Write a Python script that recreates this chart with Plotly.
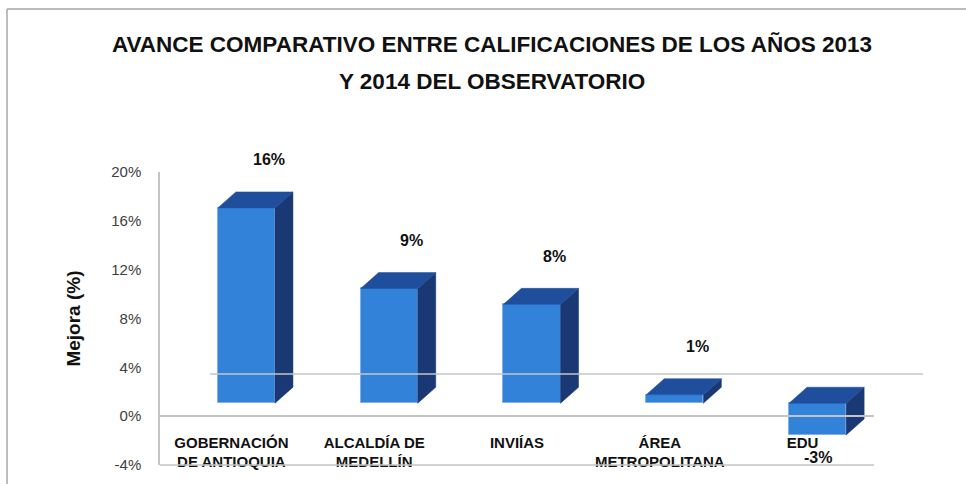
import plotly.graph_objects as go

# ---------------- data ----------------
categories = ["GOBERNACIÓN<br>DE ANTIOQUIA", "ALCALDÍA DE<br>MEDELLÍN", "INVIÍAS",
              "ÁREA<br>METROPOLITANA", "EDU"]
mejora = [0.16, 0.094, 0.081, 0.007, -0.026]
y_tick_vals = [-0.04, 0.0, 0.04, 0.08, 0.12, 0.16, 0.20]
y_tick_text = ["-4%", "0%", "4%", "8%", "12%", "16%", "20%"]
title_line1 = "AVANCE COMPARATIVO ENTRE CALIFICACIONES DE LOS AÑOS 2013"
title_line2 = "Y 2014 DEL OBSERVATORIO"
y_title = "Mejora (%)"

# ---------------- styling constants ----------------
W, H = 966, 484
ML, MR, MT, MB = 160, 92, 172, 19
Y_MIN, Y_MAX = -0.04, 0.20
BAR_SHIFT = 0.105      # bars drawn in front of the category position (3D effect)
BAR_W = 0.40
DEPTH_X = 0.126        # 3D depth in x units
DEPTH_Y = 0.0131       # 3D depth in y units
FLOOR = 0.0106         # front-face floor offset (3D effect)

FRONT = "#3282DA"
TOP = "#1F4E9C"
SIDE = "#193874"
GRID = "#C4C4C4"
BORDER = "#A6A6A6"

FONT = "Liberation Sans, Arial, sans-serif"
TITLE_SIZE = 22.5

idx = list(range(len(categories)))
cx = [i + BAR_SHIFT for i in idx]
hw = BAR_W / 2

fig = go.Figure()

# side faces and top faces (computed from values)
side_x, side_y, top_x, top_y = [], [], [], []
for c, v in zip(cx, mejora):
    top = FLOOR + max(v, 0)
    bot = FLOOR + min(v, 0)
    side_x += [c + hw, c + hw, c + hw + DEPTH_X, c + hw + DEPTH_X, c + hw, None]
    side_y += [bot, top, top + DEPTH_Y, bot + DEPTH_Y, bot, None]
    top_x += [c - hw, c + hw, c + hw + DEPTH_X, c - hw + DEPTH_X, c - hw, None]
    top_y += [top, top, top + DEPTH_Y, top + DEPTH_Y, top, None]

fig.add_trace(go.Scatter(x=side_x, y=side_y, fill="toself", fillcolor=SIDE,
                         mode="lines", line=dict(color=SIDE, width=0.5),
                         hoverinfo="skip", showlegend=False))
fig.add_trace(go.Scatter(x=top_x, y=top_y, fill="toself", fillcolor=TOP,
                         mode="lines", line=dict(color=TOP, width=0.5),
                         hoverinfo="skip", showlegend=False))

# front faces
fig.add_trace(go.Bar(x=cx, y=mejora, base=FLOOR, width=BAR_W,
                     marker=dict(color=FRONT, line=dict(color="#7FB0EA", width=1)),
                     showlegend=False, hovertemplate="%{y:.0%}<extra></extra>"))

# data labels
label_font = dict(family=FONT, size=16, color="#111111", weight="bold")
for c, v in zip(cx, mejora):
    if v >= 0:
        fig.add_annotation(x=c + DEPTH_X + 0.03, y=FLOOR + v + DEPTH_Y, yshift=32,
                           text=f"{v:.0%}", showarrow=False, xref="x", yref="y",
                           font=label_font, yanchor="middle")
    else:
        fig.add_annotation(x=c, y=FLOOR + v, yshift=-23,
                           text=f"{v:.0%}", showarrow=False, xref="x", yref="y",
                           font=label_font, yanchor="middle")

plot_w = W - ML - MR
plot_h = H - MT - MB

def px_x(p):
    return (p - ML) / plot_w

def px_y(p):
    return (H - MB - p) / plot_h

# second title line (placed separately to get the original line spacing)
fig.add_annotation(text=title_line2, xref="paper", yref="paper",
                   x=px_x(492), y=px_y(81), xanchor="center", yanchor="middle",
                   showarrow=False,
                   font=dict(family=FONT, size=TITLE_SIZE, color="#111111", weight="bold"))

shapes = [
    # bottom line at -4%
    dict(type="line", xref="paper", yref="paper", x0=0, x1=1, y0=0, y1=0,
         line=dict(color=GRID, width=1.5)),
    # back-wall floor gridline
    dict(type="line", xref="paper", yref="paper", x0=px_x(210), x1=px_x(923),
         y0=px_y(374), y1=px_y(374), line=dict(color=GRID, width=1.5)),
    # chart border (top and left)
    dict(type="line", xref="paper", yref="paper", x0=px_x(7), x1=px_x(W + 2),
         y0=px_y(9), y1=px_y(9), line=dict(color=BORDER, width=1.5)),
    dict(type="line", xref="paper", yref="paper", x0=px_x(7), x1=px_x(7),
         y0=px_y(9), y1=px_y(H + 2), line=dict(color=BORDER, width=1.5)),
]

fig.update_layout(
    width=W, height=H,
    margin=dict(l=ML, r=MR, t=MT, b=MB),
    paper_bgcolor="white", plot_bgcolor="white",
    title=dict(text=title_line1, x=492 / W, xanchor="center",
               y=1 - 44 / H, yref="container", yanchor="middle",
               font=dict(family=FONT, size=TITLE_SIZE, color="#111111", weight="bold")),
    shapes=shapes,
    bargap=0,
    xaxis=dict(range=[-0.5, 4.5], tickmode="array", tickvals=idx, ticktext=categories,
               anchor="free", position=(0 - Y_MIN) / (Y_MAX - Y_MIN),
               showline=True, linecolor=GRID, linewidth=1.5,
               showgrid=False, zeroline=False, ticks="", ticklabelstandoff=13,
               tickfont=dict(family=FONT, size=15, color="#111111", weight="bold")),
    yaxis=dict(range=[Y_MIN, Y_MAX], tickmode="array", tickvals=y_tick_vals,
               ticktext=y_tick_text, showline=True, linecolor=GRID, linewidth=1.5,
               showgrid=False, zeroline=False, ticks="", ticklabelstandoff=14,
               tickfont=dict(family=FONT, size=15, color="#404040"),
               title=dict(text=y_title, standoff=26,
                          font=dict(family=FONT, size=19, color="#111111", weight="bold"))),
)

fig.write_html("out.html", config={"displayModeBar": False},
               post_script="document.body.style.margin='0';")
